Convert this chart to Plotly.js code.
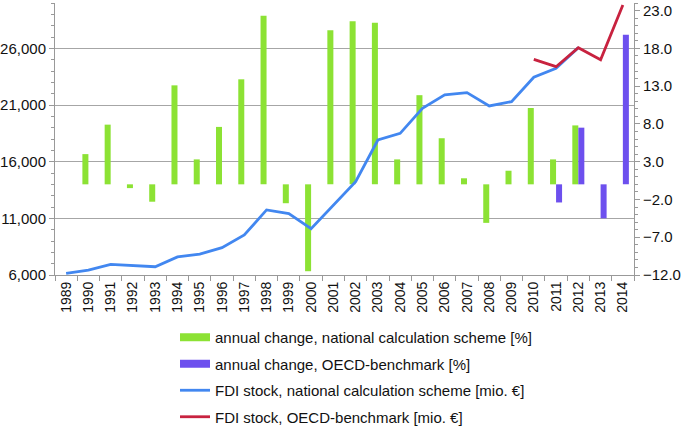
<!DOCTYPE html>
<html>
<head>
<meta charset="utf-8">
<script src="https://cdn.plot.ly/plotly-3.0.1.min.js"></script>
<style>html,body{margin:0;padding:0;background:#fff;}#chart{width:685px;height:427px;}</style>
</head>
<body>
<div id="chart"></div>
<script>
const years = ["1989","1990","1991","1992","1993","1994","1995","1996","1997","1998","1999","2000","2001","2002","2003","2004","2005","2006","2007","2008","2009","2010","2011","2012","2013","2014"];
const changeNational = [null,4.0,7.9,-0.5,-2.3,13.1,3.3,7.6,13.9,22.3,-2.5,-11.5,20.4,21.6,21.4,3.3,11.8,6.1,0.8,-5.1,1.8,10.1,3.3,7.8,null,null];
const changeOECD = [null,null,null,null,null,null,null,null,null,null,null,null,null,null,null,null,null,null,null,null,null,null,-2.4,7.5,-4.5,19.8];
const stockNational = [6150,6440,6940,6850,6730,7590,7850,8410,9530,11740,11410,10090,12120,14240,17910,18500,20710,21890,22090,20920,21300,23450,24240,26060,null,null];
const stockOECD = [null,null,null,null,null,null,null,null,null,null,null,null,null,null,null,null,null,null,null,null,null,25020,24380,26060,25000,29830];
const seriesNames = ["annual change, national calculation scheme [%]","annual change, OECD-benchmark [%]","FDI stock, national calculation scheme [mio. €]","FDI stock, OECD-benchmark [mio. €]"];
const colors = ["#8ce234","#6d50ee","#4287f0","#c8223f"];

const FONT = "Liberation Sans, Arial, sans-serif";
const traces = [
  {type:"bar", x:years, y:changeNational, name:seriesNames[0], marker:{color:colors[0]}, yaxis:"y", showlegend:false},
  {type:"bar", x:years, y:changeOECD, name:seriesNames[1], marker:{color:colors[1]}, yaxis:"y", showlegend:false},
  {type:"scatter", mode:"lines", x:[null], y:[null], name:seriesNames[0], line:{color:colors[0], width:8}, yaxis:"y", legendgroup:"a", hoverinfo:"skip"},
  {type:"scatter", mode:"lines", x:[null], y:[null], name:seriesNames[1], line:{color:colors[1], width:8}, yaxis:"y", legendgroup:"b", hoverinfo:"skip"},
  {type:"scatter", mode:"lines", x:years, y:stockNational, name:seriesNames[2], line:{color:colors[2], width:2.8}, yaxis:"y2", legendgroup:"c"},
  {type:"scatter", mode:"lines", x:years, y:stockOECD, name:seriesNames[3], line:{color:colors[3], width:2.8}, yaxis:"y2", legendgroup:"d"}
];
const layout = {
  width:685, height:427,
  margin:{l:55, r:51, t:3, b:0, autoexpand:false},
  paper_bgcolor:"#fff", plot_bgcolor:"#fff",
  font:{family:FONT, size:14, color:"#111"},
  barmode:"group", bargap:0.46, bargroupgap:0,
  showlegend:true,
  legend:{orientation:"v", x:0.2073, xanchor:"left", y:0.25, yanchor:"top", tracegroupgap:4, font:{size:15}, bgcolor:"rgba(0,0,0,0)"},
  xaxis:{type:"category", tickangle:-90, tickson:"boundaries", ticks:"outside", ticklen:5, tickcolor:"#999", automargin:false,
         showline:true, linecolor:"#999", linewidth:1, showgrid:false, zeroline:false, tickfont:{size:14}, anchor:"y"},
  yaxis:{side:"right", domain:[0.3585,1], range:[-12,24], tick0:-12, dtick:5, tickformat:".1f", ticks:"outside", ticklen:5, tickcolor:"#999", automargin:false,
         minor:{dtick:1, ticks:"outside", ticklen:3, tickcolor:"#999"},
         showline:true, linecolor:"#999", showgrid:false, zeroline:false, tickfont:{size:15}},
  yaxis2:{side:"left", overlaying:"y", range:[6000,30000], tick0:6000, dtick:5000, tickformat:",d", ticks:"outside", ticklen:5, tickcolor:"#999", automargin:false,
         minor:{dtick:1000, ticks:"outside", ticklen:3, tickcolor:"#999"},
         showline:true, linecolor:"#999", showgrid:true, gridcolor:"#a6a6a6", gridwidth:1, zeroline:false, tickfont:{size:15}}
};
Plotly.newPlot("chart", traces, layout, {displayModeBar:false, staticPlot:true});
</script>
</body>
</html>
